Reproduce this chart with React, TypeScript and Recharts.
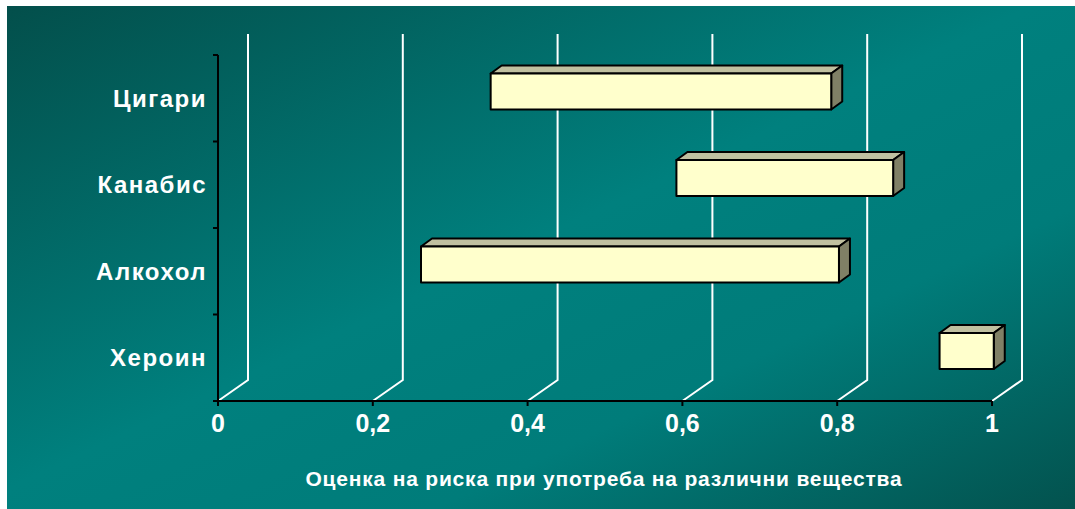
import React from 'react';
import { BarChart, Bar, XAxis, YAxis, CartesianGrid } from 'recharts';

// substances, lowest and highest risk score
const substances = ['Цигари', 'Канабис', 'Алкохол', 'Хероин'];
const riskFrom = [0.34, 0.58, 0.25, 0.92];
const riskTo = [0.78, 0.86, 0.79, 0.99];
const xTicks = [0, 0.2, 0.4, 0.6, 0.8, 1];
const axisTitle = 'Оценка на риска при употреба на различни вещества';

const chartData = substances.map((name, i) => ({ name, range: [riskFrom[i], riskTo[i]] }));

const W = 1068;
const H = 503;
const Y_W = 211;
const X_H = 108;
const TOP = 49;
const BAND = (H - TOP - X_H) / substances.length;

// depth of the 3D "floor" and of the boxes
const DEPTH_X = 30;
const DEPTH_Y = 21;
const BOX_DX = 11;
const BOX_DY = 8;

const FONT = '"Liberation Sans", Arial, sans-serif';

const Box3D = (props: any) => {
  const { x, y, width, height } = props;
  if (width == null || height == null) return null;
  // box sits in the middle of the floor depth
  const fx = x + (DEPTH_X - BOX_DX) / 2;
  const fy = y - (DEPTH_Y - BOX_DY) / 2;
  const top = `${fx},${fy} ${fx + BOX_DX},${fy - BOX_DY} ${fx + width + BOX_DX},${fy - BOX_DY} ${fx + width},${fy}`;
  const side = `${fx + width},${fy} ${fx + width + BOX_DX},${fy - BOX_DY} ${fx + width + BOX_DX},${fy + height - BOX_DY} ${fx + width},${fy + height}`;
  return (
    <g stroke="#000" strokeWidth={2} strokeLinejoin="round">
      <polygon points={top} fill="#C0C0A0" />
      <polygon points={side} fill="#808066" />
      <rect x={fx} y={fy} width={width} height={height} fill="#FFFFCC" />
    </g>
  );
};

const gridLine = (p: any) => {
  const { x1, y1, y2 } = p;
  return (
    <path
      key={p.key}
      d={`M${x1},${y2} L${x1 + DEPTH_X},${y2 - DEPTH_Y} L${x1 + DEPTH_X},${y1 - DEPTH_Y}`}
      stroke="#fff"
      strokeWidth={2}
      fill="none"
    />
  );
};

const CategoryTick = (props: any) => {
  const { y, payload, index } = props;
  const half = BAND / 2;
  return (
    <g>
      <line x1={Y_W - 5} x2={Y_W} y1={y - half} y2={y - half} stroke="#000" strokeWidth={2} />
      {index === substances.length - 1 && (
        <line x1={Y_W - 5} x2={Y_W} y1={y + half} y2={y + half} stroke="#000" strokeWidth={2} />
      )}
      <text
        x={Y_W - 11}
        y={y}
        dy="0.36em"
        textAnchor="end"
        fill="#fff"
        fontSize={24}
        fontWeight="bold"
        fontFamily={FONT}
        letterSpacing={1.5}
      >
        {payload.value}
      </text>
    </g>
  );
};

const ValueTick = (props: any) => {
  const { x, y, payload } = props;
  return (
    <text x={x} y={y + 24} textAnchor="middle" fill="#fff" fontSize={25} fontWeight="bold" fontFamily={FONT}>
      {String(payload.value).replace('.', ',')}
    </text>
  );
};

const TitleLabel = (props: any) => {
  const vb = props.viewBox || {};
  return (
    <text
      x={vb.x + vb.width / 2 - 1}
      y={vb.y + 85}
      textAnchor="middle"
      fill="#fff"
      fontSize={21}
      fontWeight="bold"
      fontFamily={FONT}
      letterSpacing={0.8}
    >
      {axisTitle}
    </text>
  );
};

export default function App() {
  return (
    <div
      style={{
        position: 'absolute',
        left: 7,
        top: 6,
        width: W,
        height: H,
        background: 'linear-gradient(to bottom right, #034F4B 0%, #00807E 48%, #007C7A 70%, #03524E 100%)',
      }}
    >
      <BarChart
        width={W}
        height={H}
        data={chartData}
        layout="vertical"
        margin={{ top: TOP, right: 83, left: 0, bottom: 0 }}
        barSize={36}
      >
        <CartesianGrid horizontal={false} vertical={gridLine} />
        <XAxis
          type="number"
          domain={[0, 1]}
          ticks={xTicks}
          height={X_H}
          axisLine={{ stroke: '#000', strokeWidth: 2 }}
          tickLine={{ stroke: '#000', strokeWidth: 2 }}
          tickSize={5}
          tick={<ValueTick />}
          label={<TitleLabel />}
        />
        <YAxis
          type="category"
          dataKey="name"
          width={Y_W}
          axisLine={{ stroke: '#000', strokeWidth: 2 }}
          tickLine={false}
          tick={<CategoryTick />}
        />
        <Bar dataKey="range" shape={<Box3D />} isAnimationActive={false} />
      </BarChart>
    </div>
  );
}
